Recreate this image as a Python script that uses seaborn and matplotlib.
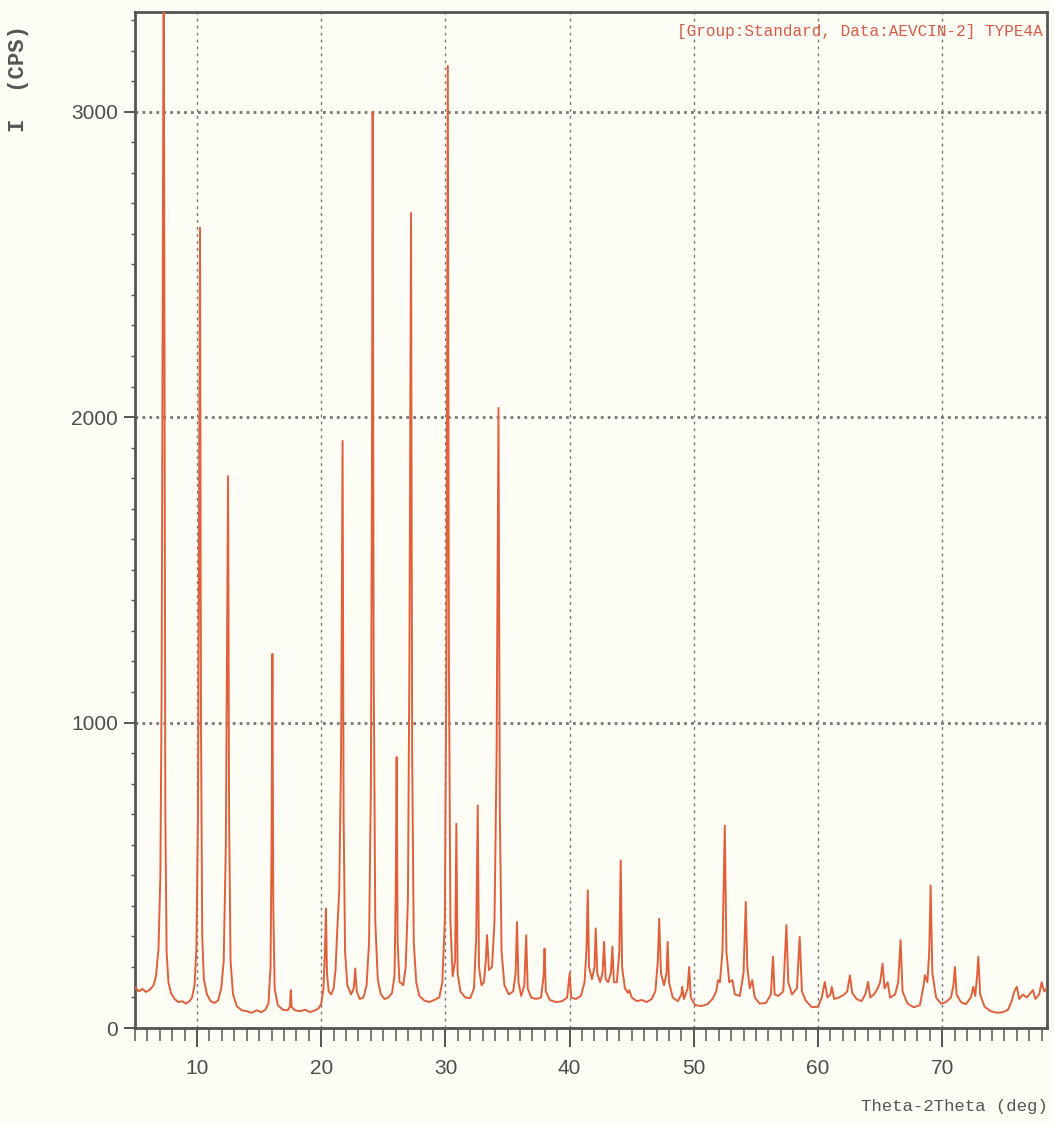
import matplotlib
matplotlib.use("Agg")
import matplotlib.pyplot as plt
from matplotlib.ticker import MultipleLocator
import seaborn as sns
import pandas as pd

# ---- data (2theta in deg, intensity in CPS) ----
tt_low = [5.0, 5.3, 5.6, 5.9, 6.2, 6.5, 6.7, 6.9, 7.05, 7.15, 7.25, 7.32, 7.38, 7.45, 7.55, 7.7, 7.9,
          8.2, 8.5, 8.8, 9.1, 9.4, 9.6, 9.8, 9.95, 10.08, 10.16, 10.24, 10.32, 10.42, 10.55, 10.8,
          11.1, 11.4, 11.7, 11.95, 12.15, 12.32, 12.42, 12.5, 12.58, 12.7, 12.9, 13.2, 13.6, 14.0,
          14.4, 14.8, 15.2, 15.5, 15.75, 15.92, 16.0, 16.07, 16.14, 16.25, 16.5, 16.9, 17.3, 17.48,
          17.55, 17.62, 17.9, 18.3, 18.7, 19.1, 19.5, 19.8, 20.0, 20.18, 20.3, 20.38, 20.46, 20.6]
cps_low = [135, 120, 128, 118, 125, 140, 170, 260, 500, 1100, 2500, 3600, 2200, 700, 250, 150, 115,
           95, 85, 88, 80, 88, 100, 140, 260, 700, 1700, 2620, 1000, 300, 160, 110,
           88, 82, 90, 130, 220, 600, 1300, 1807, 700, 220, 110, 72, 58, 55,
           50, 58, 52, 60, 80, 200, 600, 1225, 400, 130, 75, 60, 58, 70,
           124, 68, 58, 55, 60, 52, 58, 65, 80, 130, 250, 391, 180, 120]

tt_mid = [20.8, 21.0, 21.15, 21.3, 21.45, 21.6, 21.67, 21.72, 21.8, 21.92, 22.1, 22.4, 22.62, 22.74,
          22.86, 23.1, 23.4, 23.65, 23.85, 24.0, 24.08, 24.14, 24.22, 24.35, 24.55, 24.8, 25.1, 25.4,
          25.7, 25.9, 26.0, 26.07, 26.15, 26.3, 26.45, 26.6, 26.8, 26.98, 27.1, 27.23, 27.32, 27.45,
          27.65, 27.9, 28.3, 28.7, 29.1, 29.5, 29.75, 29.95, 30.08, 30.19, 30.28, 30.4, 30.58, 30.78,
          30.88, 30.98, 31.2, 31.6, 32.0, 32.3, 32.48, 32.6, 32.7, 32.9, 33.1, 33.25, 33.35, 33.5,
          33.75, 33.95, 34.12, 34.27, 34.38, 34.52, 34.75, 35.1, 35.45, 35.65, 35.76, 35.88, 36.1,
          36.35, 36.5, 36.62, 36.9, 37.3, 37.7, 37.9, 37.98, 38.08, 38.4, 38.9, 39.4, 39.8, 40.0, 40.12]
cps_mid = [110, 130, 190, 330, 450, 900, 1500, 1922, 700, 250, 140, 110, 130, 195,
           120, 95, 100, 140, 280, 800, 1800, 3000, 1200, 350, 160, 110, 95, 100,
           115, 170, 450, 887, 280, 150, 147, 140, 200, 420, 1200, 2668, 900, 280,
           150, 105, 90, 85, 92, 100, 150, 350, 1200, 3150, 1200, 350, 170, 220,
           669, 180, 120, 100, 98, 130, 300, 729, 200, 140, 150, 220, 304, 190,
           200, 350, 900, 2030, 700, 250, 140, 110, 120, 180, 347, 150, 105,
           140, 304, 130, 100, 95, 100, 170, 260, 120, 92, 85, 88, 100, 180, 100]

tt_high = [40.5, 40.9, 41.2, 41.36, 41.46, 41.56, 41.8, 42.0, 42.1, 42.22, 42.45, 42.65, 42.77, 42.9,
           43.1, 43.32, 43.44, 43.56, 43.8, 44.0, 44.11, 44.22, 44.45, 44.7, 44.8, 45.0, 45.4, 45.8,
           46.2, 46.6, 46.9, 47.1, 47.21, 47.35, 47.6, 47.8, 47.89, 48.0, 48.3, 48.7, 49.0, 49.06,
           49.2, 49.5, 49.62, 49.75, 50.1, 50.6, 51.1, 51.5, 51.8, 51.95, 52.1, 52.3, 52.49, 52.62,
           52.85, 53.1, 53.3, 53.7, 54.0, 54.18, 54.3, 54.5, 54.7, 54.9, 55.3, 55.8, 56.2, 56.37,
           56.5, 56.8, 57.2, 57.45, 57.6, 57.9, 58.3, 58.52, 58.7, 59.0, 59.5, 60.0, 60.3, 60.54,
           60.75, 61.0, 61.1, 61.3, 61.7, 62.1, 62.35, 62.56, 62.75, 63.1, 63.5, 63.8, 64.03, 64.2,
           64.5, 64.8, 65.0, 65.19, 65.35, 65.6, 65.8, 66.2, 66.45, 66.64, 66.8, 67.2, 67.7, 68.2,
           68.5, 68.6, 68.8, 68.95, 69.06, 69.2, 69.5, 69.9, 70.3, 70.7, 70.9, 71.02, 71.15, 71.5,
           71.9, 72.3, 72.5, 72.65, 72.8, 72.9, 73.05, 73.4, 73.9, 74.4, 74.9, 75.3, 75.6, 75.8,
           76.0, 76.2, 76.5, 76.8, 77.1, 77.3, 77.5, 77.8, 78.0, 78.2, 78.4]
cps_high = [95, 105, 150, 260, 451, 200, 160, 200, 326, 180, 150, 180, 282, 160,
            150, 180, 266, 150, 150, 250, 549, 200, 130, 115, 124, 100, 88, 92,
            85, 95, 120, 220, 358, 180, 140, 180, 282, 150, 100, 88, 110, 135,
            95, 130, 200, 100, 75, 72, 78, 95, 120, 157, 150, 250, 663, 250,
            150, 157, 110, 105, 180, 413, 200, 130, 157, 100, 80, 82, 110, 233,
            110, 105, 120, 337, 150, 110, 130, 298, 120, 90, 68, 70, 100, 151,
            100, 110, 135, 95, 100, 110, 120, 173, 115, 95, 88, 110, 151, 100,
            110, 130, 150, 211, 130, 150, 100, 110, 150, 288, 120, 80, 68, 75,
            140, 173, 150, 250, 467, 180, 100, 80, 85, 100, 140, 200, 110, 85,
            78, 100, 135, 105, 170, 233, 110, 70, 55, 50, 52, 60, 90, 120,
            135, 95, 110, 100, 115, 124, 95, 110, 150, 120, 130]

x_ticks = [10, 20, 30, 40, 50, 60, 70]
y_ticks = [0, 1000, 2000, 3000]
title_text = "[Group:Standard, Data:AEVCIN-2] TYPE4A"
x_label = "Theta-2Theta (deg)"
y_label = "I  (CPS)"

df = pd.DataFrame({"two_theta": tt_low + tt_mid + tt_high,
                   "cps": cps_low + cps_mid + cps_high})

sns.set_style("ticks")
plt.rcParams["font.family"] = ["Liberation Sans", "DejaVu Sans"]

bg = "#fdfdf6"
fig = plt.figure(figsize=(10.54, 11.26), dpi=100, facecolor=bg)
ax = fig.add_axes([0.128, 0.087, 0.865, 0.902])
ax.set_facecolor(bg)

sns.lineplot(data=df, x="two_theta", y="cps", ax=ax, color="#e0603c",
             linewidth=1.4, estimator=None, sort=False, zorder=3)

ax.set_xlim(5, 78.4)
ax.set_ylim(0, 3325)
ax.set_xticks(x_ticks)
ax.set_yticks(y_ticks)
ax.xaxis.set_minor_locator(MultipleLocator(1))
ax.yaxis.set_minor_locator(MultipleLocator(100))

ax.tick_params(axis="x", which="major", length=14, width=1.4, color="#555555",
               labelsize=15, labelcolor="#4d4d4d", pad=8, direction="out")
ax.tick_params(axis="x", which="minor", length=9, width=1.1, color="#555555", direction="out")
ax.tick_params(axis="y", which="major", length=8, width=1.4, color="#555555",
               labelsize=15, labelcolor="#4d4d4d", pad=4, direction="out")
ax.tick_params(axis="y", which="minor", length=3, width=1.0, color="#555555", direction="out")

for s in ax.spines.values():
    s.set_color("#555555")
    s.set_linewidth(2)

ax.xaxis.grid(True, which="major", linestyle=(0, (2, 3)), color="#777777", linewidth=1.0, zorder=1)
ax.yaxis.grid(True, which="major", linestyle=(0, (1, 1.5)), color="#777777", linewidth=2.0, zorder=1)
ax.set_axisbelow(True)

ax.set_xlabel("")
ax.set_ylabel("")

fig.text(0.9896, 0.972, title_text, ha="right", va="center", family="Liberation Mono",
         fontsize=11.5, color="#d95a45")
fig.text(0.994, 0.017, x_label, ha="right", va="center", family="Liberation Mono",
         fontsize=12.5, color="#555555")
fig.text(0.018, 0.930, y_label, ha="center", va="center", rotation=90, family="Liberation Mono",
         fontsize=16, fontweight="bold", color="#555555")

fig.savefig("out.png", dpi=100, facecolor=bg)
